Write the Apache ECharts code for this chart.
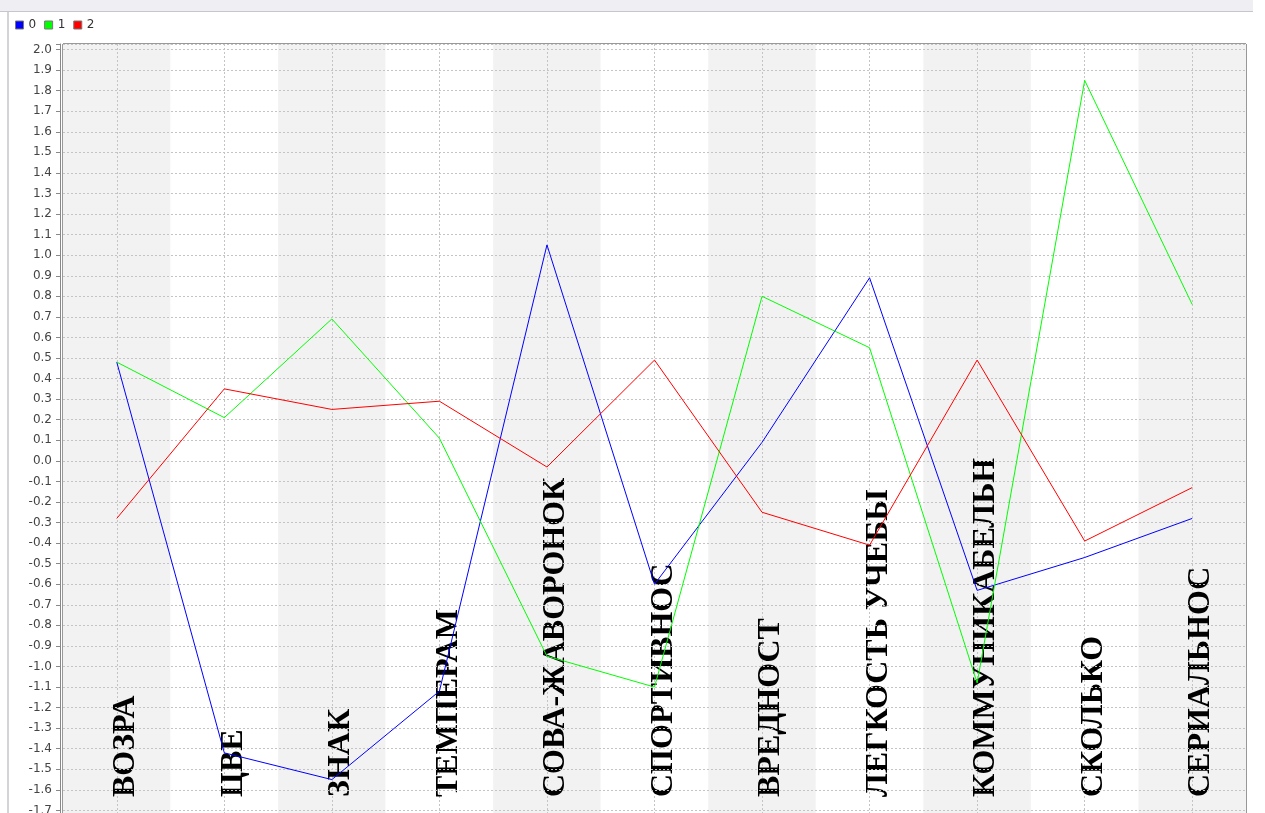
<!DOCTYPE html>
<html>
<head>
<meta charset="utf-8">
<script src="https://cdn.jsdelivr.net/npm/echarts@6/dist/echarts.min.js"></script>
<style>
  html, body { margin: 0; padding: 0; background: #fff; }
  #chart { width: 1265px; height: 813px; }
</style>
</head>
<body>
<div id="chart"></div>
<script>
// категории (подписи обрезаны как на оригинале)
var categories = ['ВОЗРА', 'ЦВЕ', 'ЗНАК', 'ТЕМПЕРАМ', 'СОВА-ЖАВОРОНОК', 'СПОРТИВНОС',
                  'ВРЕДНОСТ', 'ЛЕГКОСТЬ УЧЕБЫ', 'КОММУНИКАБЕЛЬН', 'СКОЛЬКО', 'СЕРИАЛЬНОС'];
var seriesNames = ['0', '1', '2'];
var values0 = [0.48, -1.42, -1.55, -1.12, 1.05, -0.60, 0.09, 0.89, -0.63, -0.47, -0.28];
var values1 = [0.48, 0.21, 0.69, 0.11, -0.95, -1.10, 0.80, 0.55, -1.08, 1.85, 0.76];
var values2 = [-0.28, 0.35, 0.25, 0.29, -0.03, 0.49, -0.25, -0.41, 0.49, -0.39, -0.13];
var yMin = -1.8;
var yMax = 2.027;
var yStep = 0.1;

var colors = ['#0000ff', '#00ff00', '#ff0000'];
var gridDash = { color: '#c4c4c4', type: [2, 2], width: 1 };

var option = {
    animation: false,
    backgroundColor: '#ffffff',
    color: colors,
    graphic: [
        { type: 'rect', shape: { x: 0, y: 0, width: 1253, height: 11 }, style: { fill: '#efeff3' }, silent: true },
        { type: 'rect', shape: { x: 0, y: 11, width: 1253, height: 1 }, style: { fill: '#c6c6ce' }, silent: true },
        { type: 'rect', shape: { x: 7, y: 12, width: 2, height: 801 }, style: { fill: '#d4d4d8' }, silent: true }
    ],
    legend: {
        left: 15,
        top: 19,
        padding: 0,
        itemWidth: 8,
        itemHeight: 8,
        itemGap: 8,
        icon: 'rect',
        itemStyle: { borderColor: '#777', borderWidth: 1 },
        textStyle: { fontFamily: 'DejaVu Sans', fontSize: 12, color: '#333' },
        data: seriesNames
    },
    grid: {
        left: 63,
        top: 44,
        width: 1183,
        height: 787,
        outerBoundsMode: 'none',
        containLabel: false,
        show: true,
        borderColor: '#333',
        borderWidth: 1,
        backgroundColor: 'transparent'
    },
    xAxis: {
        type: 'category',
        data: categories,
        boundaryGap: true,
        z: 0,
        axisLine: { show: false },
        axisTick: { show: false },
        axisLabel: {
            inside: true,
            rotate: 90,
            margin: 34,
            interval: 0,
            verticalAlign: 'top',
            lineHeight: 18,
            fontFamily: 'Liberation Serif',
            fontWeight: 'bold',
            fontSize: 32,
            color: '#000'
        },
        splitArea: { show: true, interval: 0, areaStyle: { color: ['#f2f2f2', '#ffffff'] } },
        splitLine: { show: true, interval: 0, alignWithLabel: true, lineStyle: gridDash }
    },
    yAxis: {
        type: 'value',
        min: yMin,
        max: yMax,
        interval: yStep,
        offset: 3,
        z: 1,
        axisLine: { show: true, lineStyle: { color: '#888', width: 1 } },
        axisTick: { show: true, length: 4, lineStyle: { color: '#888' } },
        axisLabel: {
            margin: 8,
            fontFamily: 'DejaVu Sans',
            fontSize: 12,
            color: '#444',
            formatter: function (v) {
                if (Math.abs(v * 10 - Math.round(v * 10)) > 1e-6) return '';
                if (Math.abs(v) < 1e-9) return '0.0';
                return v.toFixed(1);
            }
        },
        splitLine: { show: true, lineStyle: gridDash }
    },
    series: [
        { name: seriesNames[0], type: 'line', data: values0, showSymbol: false, lineStyle: { width: 1 } },
        { name: seriesNames[1], type: 'line', data: values1, showSymbol: false, lineStyle: { width: 1 } },
        { name: seriesNames[2], type: 'line', data: values2, showSymbol: false, lineStyle: { width: 1 } }
    ]
};

var myChart = echarts.init(document.getElementById('chart'));
myChart.setOption(option);
</script>
</body>
</html>
